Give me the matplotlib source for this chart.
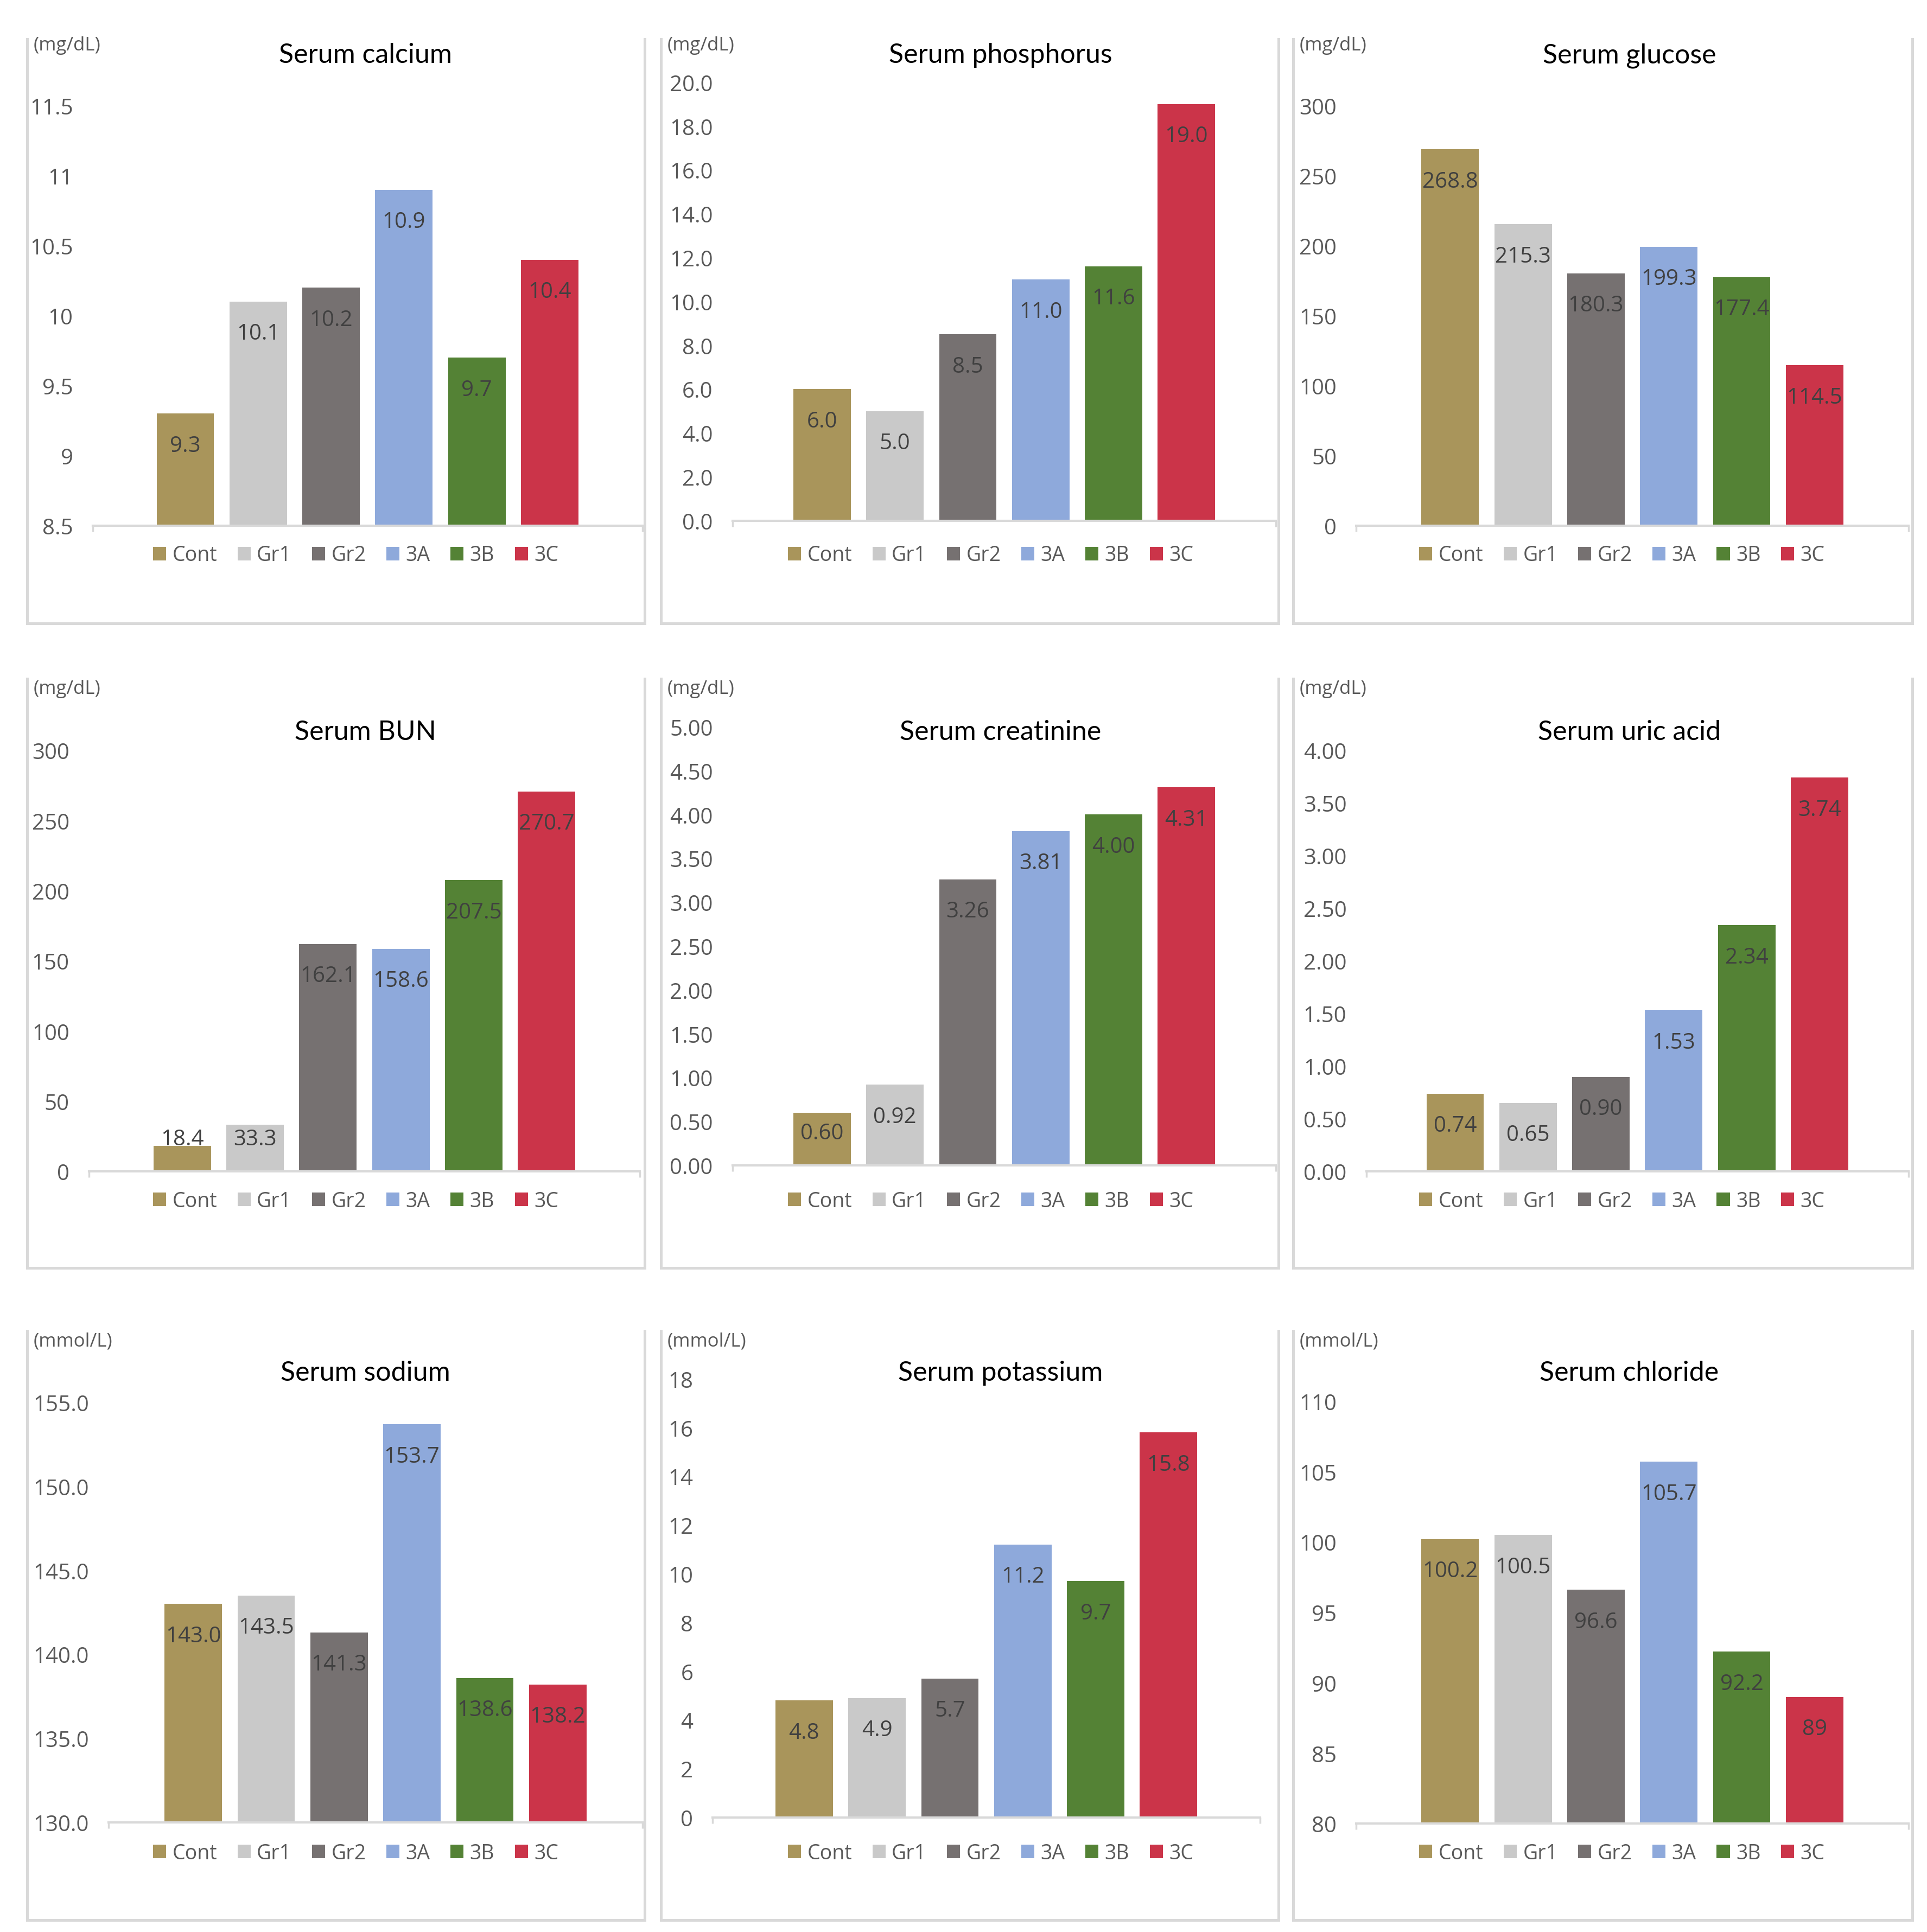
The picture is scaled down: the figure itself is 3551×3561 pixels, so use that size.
import matplotlib
matplotlib.use('Agg')
import matplotlib.pyplot as plt
from matplotlib.lines import Line2D
from matplotlib.patches import Patch
import numpy as np

plt.rcParams['font.family'] = ['Open Sans', 'DejaVu Sans']

# ---------------- data ----------------
groups = ['Cont', 'Gr1', 'Gr2', '3A', '3B', '3C']
colors = ['#A9955B', '#C9C9C9', '#767171', '#8EA9DB', '#548235', '#CB3449']

titles = ['Serum calcium', 'Serum phosphorus', 'Serum glucose',
          'Serum BUN', 'Serum creatinine', 'Serum uric acid',
          'Serum sodium', 'Serum potassium', 'Serum chloride']
units = ['(mg/dL)', '(mg/dL)', '(mg/dL)',
         '(mg/dL)', '(mg/dL)', '(mg/dL)',
         '(mmol/L)', '(mmol/L)', '(mmol/L)']

calcium = [9.3, 10.1, 10.2, 10.9, 9.7, 10.4]
phosphorus = [6.0, 5.0, 8.5, 11.0, 11.6, 19.0]
glucose = [268.8, 215.3, 180.3, 199.3, 177.4, 114.5]
bun = [18.4, 33.3, 162.1, 158.6, 207.5, 270.7]
creatinine = [0.60, 0.92, 3.26, 3.81, 4.00, 4.31]
uric_acid = [0.74, 0.65, 0.90, 1.53, 2.34, 3.74]
sodium = [143.0, 143.5, 141.3, 153.7, 138.6, 138.2]
potassium = [4.8, 4.9, 5.7, 11.2, 9.7, 15.8]
chloride = [100.2, 100.5, 96.6, 105.7, 92.2, 89]

values = [calcium, phosphorus, glucose, bun, creatinine, uric_acid,
          sodium, potassium, chloride]
y_min = [8.5, 0, 0, 0, 0, 0, 130, 0, 80]
y_max = [11.5, 20, 300, 300, 5, 4, 155, 18, 110]
y_step = [0.5, 2, 50, 50, 0.5, 0.5, 5, 2, 5]
tick_fmt = ['{:g}', '{:.1f}', '{:g}', '{:g}', '{:.2f}', '{:.2f}', '{:.1f}', '{:g}', '{:g}']
label_fmt = ['{:.1f}', '{:.1f}', '{:.1f}', '{:.1f}', '{:.2f}', '{:.2f}', '{:.1f}', '{:.1f}', '{:g}']

# ---------------- layout (reference px at 1560 scale) ----------------
W, H = 3551, 3562
S = W / 1560.0
def fx(X):
    return X * S / W
def fy(Y):
    return 1 - Y * S / H

axes_box = [(75, 520, 86, 426), (593, 1033, 67, 422), (1098, 1545, 86, 426),
            (72, 518, 608, 949), (593, 1033, 589, 944), (1106, 1545, 608, 949),
            (88, 520, 1136, 1476), (577, 1020, 1117, 1472), (1098, 1545, 1135, 1477)]
col_lr = [(22, 522), (535, 1035), (1047, 1548)]
row_tb = [(32, 505), (550, 1027), (1078, 1555)]
title_x = [296, 810, 1319]
title_y = [45, 593, 1112]
unit_y = [37, 558, 1086]
legend_x = [288, 802, 1313]
legend_y = [450, 973, 1501]

bar_spacing = 59.0
bar_width = 46.5

fig = plt.figure(figsize=(W / 100, H / 100), dpi=100)
fig.patch.set_facecolor('white')

border_c = '#D9D9D9'
for k in range(9):
    r, c = divmod(k, 3)
    xl, xr, yt, yb = axes_box[k]
    ax = fig.add_axes([fx(xl), fy(yb), fx(xr) - fx(xl), fy(yt) - fy(yb)])
    half = (xr - xl) / 2.0
    xs = [(i - 2.5) * bar_spacing for i in range(6)]
    vals = values[k]
    ax.bar(xs, vals, width=bar_width, color=colors, zorder=1)
    ax.set_xlim(-half, half)
    ax.set_ylim(y_min[k], y_max[k])
    ticks = np.round(np.arange(y_min[k], y_max[k] + y_step[k] / 2, y_step[k]), 6)
    ax.set_yticks(ticks)
    ax.set_yticklabels([tick_fmt[k].format(t) for t in ticks])
    ax.tick_params(axis='y', length=0, pad=26, labelsize=29, labelcolor='#595959')
    ax.set_xticks([-half, half])
    ax.set_xticklabels(['', ''])
    ax.tick_params(axis='x', length=8, width=2.5, color=border_c, direction='out')
    for s in ['left', 'top', 'right']:
        ax.spines[s].set_visible(False)
    ax.spines['bottom'].set_color(border_c)
    ax.spines['bottom'].set_linewidth(3.0)
    ax.patch.set_alpha(0)
    # data labels
    ppu = (yb - yt) / (y_max[k] - y_min[k])
    off = 26.0 / ppu
    for x, v in zip(xs, vals):
        h = v - y_min[k]
        ly = y_min[k] + max(h - off, off)
        ax.text(x, ly, label_fmt[k].format(v), ha='center', va='center',
                fontsize=29, color='#404040', zorder=3)
    # title and units
    fig.text(fx(title_x[c]), fy(title_y[r]), titles[k], ha='center', va='center',
             fontsize=36, color='black', family=['Lato', 'DejaVu Sans'])
    fig.text(fx(col_lr[c][0] + 5), fy(unit_y[r]), units[k], ha='left', va='center',
             fontsize=25, color='#595959')
    # legend
    handles = [Patch(facecolor=colors[i], edgecolor='none', label=groups[i]) for i in range(6)]
    fig.legend(handles=handles, loc='center', bbox_to_anchor=(fx(legend_x[c]), fy(legend_y[r])),
               ncol=6, frameon=False, handlelength=0.65, handleheight=0.65,
               handletextpad=0.3, columnspacing=1.0, fontsize=27, labelcolor='#595959',
               borderpad=0, borderaxespad=0)
    # panel border (left, right, bottom)
    L, R = col_lr[c]
    T, B = row_tb[r]
    for (xa, ya, xb, yb2) in [(L, T, L, B), (R, T, R, B), (L, B, R, B)]:
        fig.add_artist(Line2D([fx(xa), fx(xb)], [fy(ya), fy(yb2)], color=border_c,
                              lw=3.6, solid_capstyle='projecting'))

fig.savefig('out.png', dpi=100, facecolor='white')
